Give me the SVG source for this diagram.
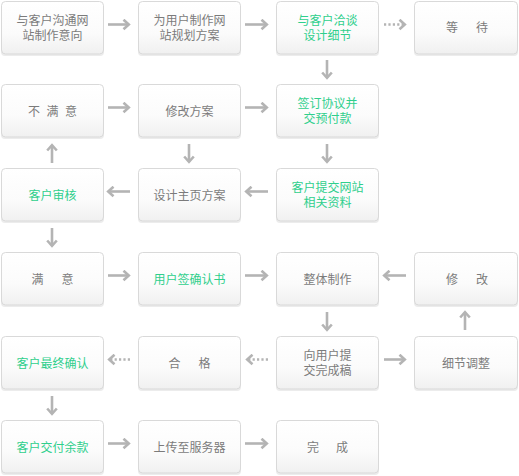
<svg xmlns="http://www.w3.org/2000/svg" width="519" height="476" viewBox="0 0 519 476">
<style>
.box{fill:url(#bg);stroke:#d9d9d9;stroke-width:1}
.sh{fill:#ececec}
text{font-family:"Noto Sans CJK SC","Liberation Sans",sans-serif;font-size:12px;text-anchor:middle}
.g{fill:#7b7b7b}
.t{fill:#2fcf8c}
.ln{stroke:#b4b4b4;stroke-width:2.6;fill:none}
.dt{stroke:#b4b4b4;stroke-width:2.6;fill:none;stroke-dasharray:2.2 2.2}
</style>
<defs>
<linearGradient id="bg" x1="0" y1="0" x2="0" y2="1">
<stop offset="0" stop-color="#ffffff"/>
<stop offset="0.6" stop-color="#fbfbfb"/>
<stop offset="1" stop-color="#f0f0f0"/>
</linearGradient>
<marker id="ah" viewBox="0 0 9 12" refX="7" refY="6" markerWidth="9" markerHeight="12" markerUnits="userSpaceOnUse" orient="auto">
<path d="M1.5,1.2 L6.8,6 L1.5,10.8" fill="none" stroke="#b4b4b4" stroke-width="2.6"/>
</marker>
</defs>

<g id="connectors">
<path class="ln" d="M108,24.5 H129" marker-end="url(#ah)"/>
<path class="ln" d="M245,24.5 H267" marker-end="url(#ah)"/>
<path class="dt" d="M384,24.5 H405" marker-end="url(#ah)"/>
<path class="ln" d="M327,60 V78" marker-end="url(#ah)"/>
<path class="ln" d="M108,107.5 H129" marker-end="url(#ah)"/>
<path class="ln" d="M245,107.5 H267" marker-end="url(#ah)"/>
<path class="ln" d="M52,163 V145" marker-end="url(#ah)"/>
<path class="ln" d="M189,144 V162" marker-end="url(#ah)"/>
<path class="ln" d="M327,144 V162" marker-end="url(#ah)"/>
<path class="ln" d="M268,191.5 H246" marker-end="url(#ah)"/>
<path class="ln" d="M130,191.5 H108" marker-end="url(#ah)"/>
<path class="ln" d="M52,228 V246" marker-end="url(#ah)"/>
<path class="ln" d="M108,275.5 H129" marker-end="url(#ah)"/>
<path class="ln" d="M245,275.5 H267" marker-end="url(#ah)"/>
<path class="ln" d="M406,275.5 H384" marker-end="url(#ah)"/>
<path class="ln" d="M327,312 V330" marker-end="url(#ah)"/>
<path class="ln" d="M465,330 V312" marker-end="url(#ah)"/>
<path class="dt" d="M130,359.5 H109" marker-end="url(#ah)"/>
<path class="dt" d="M268,359.5 H247" marker-end="url(#ah)"/>
<path class="ln" d="M384,359.5 H405" marker-end="url(#ah)"/>
<path class="ln" d="M52,396 V414" marker-end="url(#ah)"/>
<path class="ln" d="M108,443.5 H129" marker-end="url(#ah)"/>
<path class="ln" d="M245,443.5 H267" marker-end="url(#ah)"/>
</g>

<g id="n1"><rect class="sh" x="1" y="3" width="103" height="53" rx="4"/><rect class="box" x="1.5" y="1.5" width="102" height="52.5" rx="4"/>
<text class="g" y="24.5"><tspan x="52.5">与客户沟通网</tspan><tspan x="52.5" y="39.5">站制作意向</tspan></text></g>
<g id="n2"><rect class="sh" x="138" y="3" width="103" height="53" rx="4"/><rect class="box" x="138.5" y="1.5" width="102" height="52.5" rx="4"/>
<text class="g" y="24.5"><tspan x="189.5">为用户制作网</tspan><tspan x="189.5" y="39.5">站规划方案</tspan></text></g>
<g id="n3"><rect class="sh" x="276" y="3" width="103" height="53" rx="4"/><rect class="box" x="276.5" y="1.5" width="102" height="52.5" rx="4"/>
<text class="t" y="24.5"><tspan x="327.5">与客户洽谈</tspan><tspan x="327.5" y="39.5">设计细节</tspan></text></g>
<g id="n4"><rect class="sh" x="414" y="3" width="104" height="53" rx="4"/><rect class="box" x="414.5" y="1.5" width="103" height="52.5" rx="4"/>
<text class="g" y="32"><tspan x="452">等</tspan><tspan x="482">待</tspan></text></g>

<g id="n5"><rect class="sh" x="1" y="86" width="103" height="53" rx="4"/><rect class="box" x="1.5" y="84.5" width="102" height="52.5" rx="4"/>
<text class="g" y="116"><tspan x="34">不</tspan><tspan x="52.5">满</tspan><tspan x="71">意</tspan></text></g>
<g id="n6"><rect class="sh" x="138" y="86" width="103" height="53" rx="4"/><rect class="box" x="138.5" y="84.5" width="102" height="52.5" rx="4"/>
<text class="g" x="189.5" y="116">修改方案</text></g>
<g id="n7"><rect class="sh" x="276" y="86" width="103" height="53" rx="4"/><rect class="box" x="276.5" y="84.5" width="102" height="52.5" rx="4"/>
<text class="t" y="107.5"><tspan x="327.5">签订协议并</tspan><tspan x="327.5" y="122.5">交预付款</tspan></text></g>

<g id="n8"><rect class="sh" x="1" y="170" width="103" height="53" rx="4"/><rect class="box" x="1.5" y="168.5" width="102" height="52.5" rx="4"/>
<text class="t" x="52.5" y="200">客户审核</text></g>
<g id="n9"><rect class="sh" x="138" y="170" width="103" height="53" rx="4"/><rect class="box" x="138.5" y="168.5" width="102" height="52.5" rx="4"/>
<text class="g" x="189.5" y="200">设计主页方案</text></g>
<g id="n10"><rect class="sh" x="276" y="170" width="103" height="53" rx="4"/><rect class="box" x="276.5" y="168.5" width="102" height="52.5" rx="4"/>
<text class="t" y="191.5"><tspan x="327.5">客户提交网站</tspan><tspan x="327.5" y="206.5">相关资料</tspan></text></g>

<g id="n11"><rect class="sh" x="1" y="254" width="103" height="53" rx="4"/><rect class="box" x="1.5" y="252.5" width="102" height="52.5" rx="4"/>
<text class="g" y="284"><tspan x="37.5">满</tspan><tspan x="67.5">意</tspan></text></g>
<g id="n12"><rect class="sh" x="138" y="254" width="103" height="53" rx="4"/><rect class="box" x="138.5" y="252.5" width="102" height="52.5" rx="4"/>
<text class="t" x="189.5" y="284">用户签确认书</text></g>
<g id="n13"><rect class="sh" x="276" y="254" width="103" height="53" rx="4"/><rect class="box" x="276.5" y="252.5" width="102" height="52.5" rx="4"/>
<text class="g" x="327.5" y="284">整体制作</text></g>
<g id="n14"><rect class="sh" x="414" y="254" width="104" height="53" rx="4"/><rect class="box" x="414.5" y="252.5" width="103" height="52.5" rx="4"/>
<text class="g" y="284"><tspan x="452">修</tspan><tspan x="482">改</tspan></text></g>

<g id="n15"><rect class="sh" x="1" y="338" width="103" height="53" rx="4"/><rect class="box" x="1.5" y="336.5" width="102" height="52.5" rx="4"/>
<text class="t" x="52.5" y="368">客户最终确认</text></g>
<g id="n16"><rect class="sh" x="138" y="338" width="103" height="53" rx="4"/><rect class="box" x="138.5" y="336.5" width="102" height="52.5" rx="4"/>
<text class="g" y="368"><tspan x="174.5">合</tspan><tspan x="204.5">格</tspan></text></g>
<g id="n17"><rect class="sh" x="276" y="338" width="103" height="53" rx="4"/><rect class="box" x="276.5" y="336.5" width="102" height="52.5" rx="4"/>
<text class="g" y="359.5"><tspan x="327.5">向用户提</tspan><tspan x="327.5" y="374.5">交完成稿</tspan></text></g>
<g id="n18"><rect class="sh" x="414" y="338" width="104" height="53" rx="4"/><rect class="box" x="414.5" y="336.5" width="103" height="52.5" rx="4"/>
<text class="g" x="466" y="368">细节调整</text></g>

<g id="n19"><rect class="sh" x="1" y="422" width="103" height="53" rx="4"/><rect class="box" x="1.5" y="420.5" width="102" height="52.5" rx="4"/>
<text class="t" x="52.5" y="452">客户交付余款</text></g>
<g id="n20"><rect class="sh" x="138" y="422" width="103" height="53" rx="4"/><rect class="box" x="138.5" y="420.5" width="102" height="52.5" rx="4"/>
<text class="g" x="189.5" y="452">上传至服务器</text></g>
<g id="n21"><rect class="sh" x="276" y="422" width="103" height="53" rx="4"/><rect class="box" x="276.5" y="420.5" width="102" height="52.5" rx="4"/>
<text class="g" y="452"><tspan x="313">完</tspan><tspan x="342">成</tspan></text></g>
</svg>
